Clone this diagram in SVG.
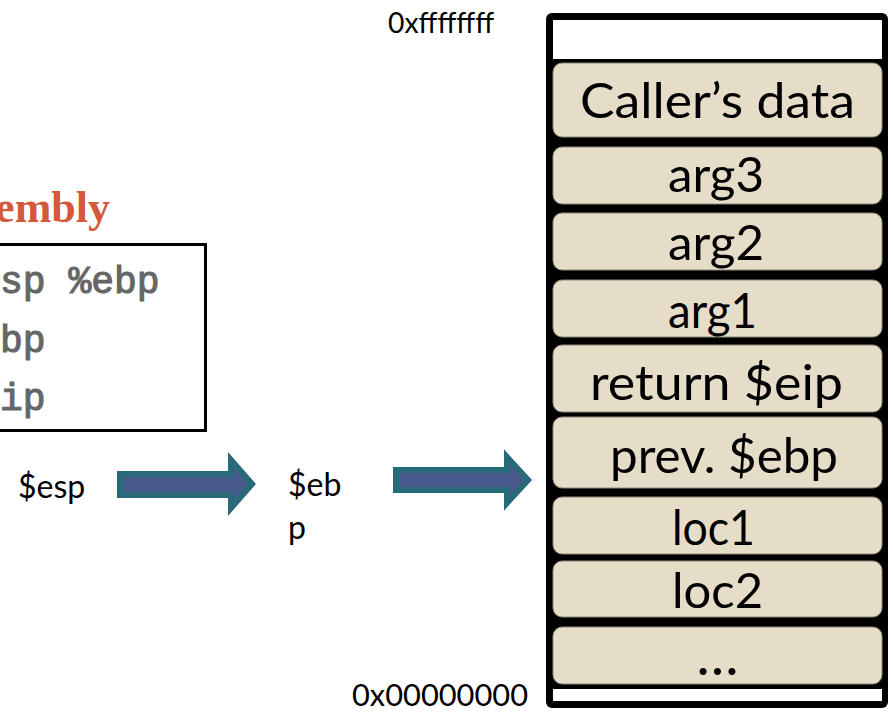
<svg xmlns="http://www.w3.org/2000/svg" width="893" height="714" viewBox="0 0 893 714">
  <style>
    .slot { fill: #e6ddc8; stroke: #8f887a; stroke-width: 1; }
    .slot-text { font-family: Lato, "Open Sans", sans-serif; font-size: 48px; fill: #000; text-anchor: middle; }
    .addr { font-family: Lato, "Open Sans", sans-serif; fill: #000; }
    .reg { font-family: Lato, "Open Sans", sans-serif; font-size: 32px; fill: #000; }
    .code { font-family: "Liberation Mono", "Courier New", monospace; font-size: 38px; fill: #666; stroke: #666; stroke-width: 1.1; }
    .arrow { fill: #485a8b; stroke: #28697a; stroke-width: 6; stroke-linejoin: miter; }
  </style>

  <rect width="893" height="714" fill="#fff"/>

  <!-- heading and code listing -->
  <g id="heading">
    <text x="110" y="222" text-anchor="end" font-family="'Liberation Serif', serif" font-weight="bold" font-size="44" fill="#d4593a">embly</text>
  </g>
  <g id="code-box">
    <rect x="-10" y="244.5" width="215.5" height="186" fill="#fff" stroke="#000" stroke-width="3"/>
    <text class="code" x="0" y="293" xml:space="preserve">sp %ebp</text>
    <text class="code" x="0" y="352">bp</text>
    <text class="code" x="0" y="410">ip</text>
  </g>

  <!-- register labels -->
  <g id="label-esp">
    <text class="reg" x="18" y="498">$esp</text>
  </g>
  <g id="label-ebp">
    <text class="reg" x="288" y="496">$eb</text>
    <text class="reg" x="288" y="539">p</text>
  </g>

  <!-- block arrows -->
  <g id="connectors">
    <polygon class="arrow" points="120,474 231,474 231,460 252,484 231,508 231,495 120,495"/>
    <polygon class="arrow" points="396,470 507,470 507,457 528,480 507,503 507,490 396,490"/>
  </g>

  <!-- address labels -->
  <g id="addr-high">
    <text class="addr" x="388" y="33" font-size="28" textLength="106" lengthAdjust="spacingAndGlyphs">0xffffffff</text>
  </g>
  <g id="addr-low">
    <text class="addr" x="352" y="706" font-size="31" textLength="176" lengthAdjust="spacingAndGlyphs">0x00000000</text>
  </g>

  <!-- stack frame -->
  <g id="stack">
    <rect x="546" y="13" width="342" height="695" rx="6" fill="#000"/>
    <rect x="553" y="20" width="329" height="39" fill="#fff"/>
    <rect x="553" y="689" width="329" height="12" fill="#fff"/>
  </g>

  <g id="slot-callers-data">
    <rect class="slot" x="553" y="63" width="329" height="74" rx="9"/>
    <text class="slot-text" x="717.5" y="118" textLength="275" lengthAdjust="spacingAndGlyphs">Caller’s data</text>
  </g>
  <g id="slot-arg3">
    <rect class="slot" x="553" y="147" width="329" height="57" rx="9"/>
    <text class="slot-text" x="716" y="192" textLength="96" lengthAdjust="spacingAndGlyphs">arg3</text>
  </g>
  <g id="slot-arg2">
    <rect class="slot" x="553" y="213" width="329" height="57" rx="9"/>
    <text class="slot-text" x="716" y="260" textLength="96" lengthAdjust="spacingAndGlyphs">arg2</text>
  </g>
  <g id="slot-arg1">
    <rect class="slot" x="553" y="280" width="329" height="57" rx="9"/>
    <text class="slot-text" x="712.5" y="328" textLength="89" lengthAdjust="spacingAndGlyphs">arg1</text>
  </g>
  <g id="slot-return-eip">
    <rect class="slot" x="553" y="345" width="329" height="67" rx="9"/>
    <text class="slot-text" x="716.5" y="400" textLength="253" lengthAdjust="spacingAndGlyphs">return $eip</text>
  </g>
  <g id="slot-prev-ebp">
    <rect class="slot" x="553" y="417" width="329" height="71" rx="9"/>
    <text class="slot-text" x="724" y="473" textLength="228" lengthAdjust="spacingAndGlyphs">prev. $ebp</text>
  </g>
  <g id="slot-loc1">
    <rect class="slot" x="553" y="497" width="329" height="57" rx="9"/>
    <text class="slot-text" x="713.5" y="545" textLength="83" lengthAdjust="spacingAndGlyphs">loc1</text>
  </g>
  <g id="slot-loc2">
    <rect class="slot" x="553" y="561" width="329" height="56" rx="9"/>
    <text class="slot-text" x="717.5" y="608" textLength="91" lengthAdjust="spacingAndGlyphs">loc2</text>
  </g>
  <g id="slot-more">
    <rect class="slot" x="553" y="627" width="329" height="57" rx="9"/>
    <text class="slot-text" x="717.5" y="675" style="font-size:56px" textLength="46" lengthAdjust="spacing">…</text>
  </g>
</svg>
